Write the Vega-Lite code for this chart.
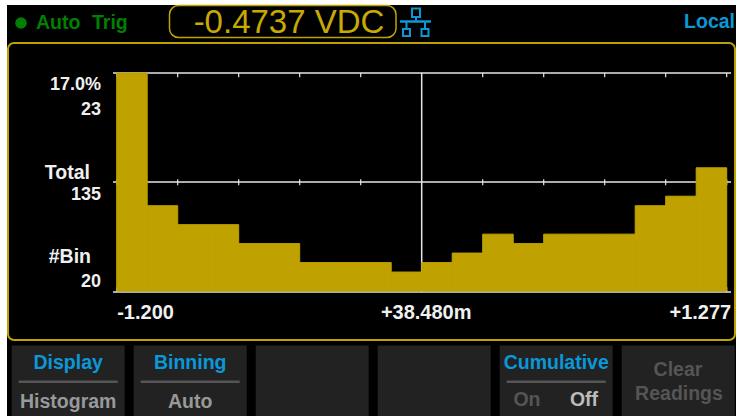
{
"$schema":"https://vega.github.io/schema/vega-lite/v6.json",
"width":618,"height":219,
"autosize":{"type":"none"},
"padding":{"left":113,"top":73,"right":5,"bottom":124},
"background":"#ffffff",
"view":{"stroke":null},
"config":{"text":{"font":"Liberation Sans","fontWeight":"bold","fontSize":19.5,"baseline":"middle"}},
"datasets":{
"bins":[
{"bin_start":-1.2,"bin_end":-1.07615,"count":23},
{"bin_start":-1.07615,"bin_end":-0.9523,"count":9},
{"bin_start":-0.9523,"bin_end":-0.82845,"count":7},
{"bin_start":-0.82845,"bin_end":-0.7046,"count":7},
{"bin_start":-0.7046,"bin_end":-0.58075,"count":5},
{"bin_start":-0.58075,"bin_end":-0.4569,"count":5},
{"bin_start":-0.4569,"bin_end":-0.33305,"count":3},
{"bin_start":-0.33305,"bin_end":-0.2092,"count":3},
{"bin_start":-0.2092,"bin_end":-0.08535,"count":3},
{"bin_start":-0.08535,"bin_end":0.0385,"count":2},
{"bin_start":0.0385,"bin_end":0.16235,"count":3},
{"bin_start":0.16235,"bin_end":0.2862,"count":4},
{"bin_start":0.2862,"bin_end":0.41005,"count":6},
{"bin_start":0.41005,"bin_end":0.5339,"count":5},
{"bin_start":0.5339,"bin_end":0.65775,"count":6},
{"bin_start":0.65775,"bin_end":0.7816,"count":6},
{"bin_start":0.7816,"bin_end":0.90545,"count":6},
{"bin_start":0.90545,"bin_end":1.0293,"count":9},
{"bin_start":1.0293,"bin_end":1.15315,"count":10},
{"bin_start":1.15315,"bin_end":1.277,"count":13}],
"ticks":[{"v":-1.2},{"v":-0.9523},{"v":-0.7046},{"v":-0.4569},{"v":-0.2092},{"v":0.2862},{"v":0.5339},{"v":0.7816},{"v":1.0293},{"v":1.277}],
"ends":[{"v":-1.2},{"v":1.277}],
"keys":[
{"slot":"1","title":"Display","value":"Histogram"},
{"slot":"2","title":"Binning","value":"Auto"},
{"slot":"3","title":"","value":""},
{"slot":"4","title":"","value":""},
{"slot":"5","title":"Cumulative","value":""},
{"slot":"6","title":"","value":""}]
},
"layer":[
{"data":{"values":[{"part":"screen"}]},"mark":{"type":"rect","color":"#000000"},"encoding":{"x":{"value":-106},"x2":{"value":623},"y":{"value":-68},"y2":{"value":343}}},
{"data":{"values":[{"part":"panel"}]},"mark":{"type":"rect","fillOpacity":0,"stroke":"#bfa200","strokeWidth":2,"cornerRadius":6},"encoding":{"x":{"value":-105},"x2":{"value":622},"y":{"value":-30},"y2":{"value":267}}},
{"data":{"values":[{"part":"readout"}]},"mark":{"type":"rect","fillOpacity":0,"stroke":"#bfa200","strokeWidth":1.5,"cornerRadius":9},"encoding":{"x":{"value":56.5},"x2":{"value":283},"y":{"value":-67.5},"y2":{"value":-35.5}}},
{"data":{"name":"keys"},"mark":{"type":"rect","color":"#222222"},"encoding":{"x":{"field":"slot","type":"nominal","axis":null,"scale":{"type":"band","domain":["1","2","3","4","5","6"],"range":[-101.3,621.7],"paddingInner":0.074,"paddingOuter":0}},"y":{"value":272.5},"y2":{"value":343}}},
{"data":{"name":"keys"},"transform":[{"filter":"datum.title!='' && datum.slot!='6'"}],"mark":{"type":"bar","width":99,"color":"#555555"},"encoding":{"x":{"field":"slot","type":"nominal","axis":null,"scale":{"type":"band","domain":["1","2","3","4","5","6"],"range":[-101.3,621.7],"paddingInner":0.074,"paddingOuter":0}},"y":{"value":307.5},"y2":{"value":310}}},
{"data":{"name":"ticks"},"mark":{"type":"rule","color":"#e6e6e6","strokeWidth":1.2},"encoding":{"x":{"field":"v","type":"quantitative","axis":null,"scale":{"domain":[-1.215,1.2945],"zero":false,"nice":false}},"y":{"datum":23,"scale":{"domain":[-0.105,23],"zero":false,"nice":false},"axis":null},"y2":{"datum":22.55}}},
{"data":{"name":"ticks"},"mark":{"type":"rule","color":"#e6e6e6","strokeWidth":1.2},"encoding":{"x":{"field":"v","type":"quantitative","axis":null,"scale":{"domain":[-1.215,1.2945],"zero":false,"nice":false}},"y":{"datum":11.8,"scale":{"domain":[-0.105,23],"zero":false,"nice":false},"axis":null},"y2":{"datum":11.15}}},
{"data":{"name":"ends"},"mark":{"type":"rule","color":"#e6e6e6","strokeWidth":1.2},"encoding":{"x":{"field":"v","type":"quantitative","axis":null,"scale":{"domain":[-1.215,1.2945],"zero":false,"nice":false}},"y":{"datum":-0.105,"scale":{"domain":[-0.105,23],"zero":false,"nice":false},"axis":null},"y2":{"datum":0.4}}},
{"data":{"values":[{"line":"top","y":23},{"line":"mid","y":11.5},{"line":"base","y":-0.105}]},"mark":{"type":"rule","color":"#e6e6e6","strokeWidth":1.5},"encoding":{"y":{"field":"y","type":"quantitative","axis":null,"scale":{"domain":[-0.105,23],"zero":false,"nice":false}}}},
{"data":{"values":[{"v":0.0385}]},"mark":{"type":"rule","color":"#e6e6e6","strokeWidth":1.5},"encoding":{"x":{"field":"v","type":"quantitative","axis":null,"scale":{"domain":[-1.215,1.2945],"zero":false,"nice":false}}}},
{"data":{"name":"bins"},"mark":{"type":"rect","color":"#bfa200","stroke":"#bfa200","strokeWidth":1},"encoding":{
"x":{"field":"bin_start","type":"quantitative","scale":{"domain":[-1.215,1.2945],"zero":false,"nice":false},
"axis":{"values":[-1.2,0.0385,1.277],"title":null,"grid":false,"ticks":false,"domain":false,"zindex":1,"labelColor":"#f0f0f0","labelFont":"Liberation Sans","labelFontWeight":"bold","labelFontSize":20,"labelPadding":10,"labelBaseline":"top","labelFlush":false,"labelOverlap":false,"labelExpr":"datum.value<0?'-1.200':datum.value>1?'+1.277':'+38.480m'",
"labelAlign":{"expr":"datum.value<0?'left':datum.value>1?'right':'center'"},
"labelOffset":{"expr":"datum.value<0?0:4"}}},
"x2":{"field":"bin_end"},
"y":{"field":"count","type":"quantitative","axis":null,"scale":{"domain":[-0.105,23],"zero":false,"nice":false}},
"y2":{"datum":0}}},
{"data":{"values":[{"label":"17.0%"}]},"mark":{"type":"text","align":"right","color":"#f0f0f0","fontSize":18},"encoding":{"text":{"field":"label"},"x":{"value":-12},"y":{"value":12}}},
{"data":{"values":[{"label":"23"}]},"mark":{"type":"text","align":"right","color":"#f0f0f0","fontSize":18},"encoding":{"text":{"field":"label"},"x":{"value":-12},"y":{"value":37}}},
{"data":{"values":[{"label":"Total"}]},"mark":{"type":"text","align":"right","color":"#f0f0f0"},"encoding":{"text":{"field":"label"},"x":{"value":-23},"y":{"value":100}}},
{"data":{"values":[{"label":"135"}]},"mark":{"type":"text","align":"right","color":"#f0f0f0","fontSize":18},"encoding":{"text":{"field":"label"},"x":{"value":-12},"y":{"value":122}}},
{"data":{"values":[{"label":"#Bin"}]},"mark":{"type":"text","align":"right","color":"#f0f0f0"},"encoding":{"text":{"field":"label"},"x":{"value":-22},"y":{"value":184}}},
{"data":{"values":[{"label":"20"}]},"mark":{"type":"text","align":"right","color":"#f0f0f0","fontSize":18},"encoding":{"text":{"field":"label"},"x":{"value":-12},"y":{"value":209}}},
{"data":{"values":[{"label":"●"}]},"mark":{"type":"circle","color":"#008000","size":135,"opacity":1},"encoding":{"x":{"value":-92},"y":{"value":-50}}},
{"data":{"values":[{"label":"Auto"}]},"mark":{"type":"text","align":"left","color":"#008000"},"encoding":{"text":{"field":"label"},"x":{"value":-77},"y":{"value":-50}}},
{"data":{"values":[{"label":"Trig"}]},"mark":{"type":"text","align":"left","color":"#008000"},"encoding":{"text":{"field":"label"},"x":{"value":-21},"y":{"value":-50}}},
{"data":{"values":[{"label":"-0.4737 VDC"}]},"mark":{"type":"text","align":"center","color":"#c8aa00","fontWeight":"normal","fontSize":33},"encoding":{"text":{"field":"label"},"x":{"value":176},"y":{"value":-50}}},
{"data":{"values":[{"label":"Local"}]},"mark":{"type":"text","align":"right","color":"#0a98d8"},"encoding":{"text":{"field":"label"},"x":{"value":622},"y":{"value":-51}}},
{"data":{"values":[{"part":"net-top"}]},"mark":{"type":"rect","fillOpacity":0,"stroke":"#0a98d8","strokeWidth":2},"encoding":{"x":{"value":299},"x2":{"value":307},"y":{"value":-64.5},"y2":{"value":-56}}},
{"data":{"values":[{"part":"net-left"}]},"mark":{"type":"rect","fillOpacity":0,"stroke":"#0a98d8","strokeWidth":2},"encoding":{"x":{"value":290},"x2":{"value":297},"y":{"value":-44},"y2":{"value":-37}}},
{"data":{"values":[{"part":"net-right"}]},"mark":{"type":"rect","fillOpacity":0,"stroke":"#0a98d8","strokeWidth":2},"encoding":{"x":{"value":308.5},"x2":{"value":315.5},"y":{"value":-44},"y2":{"value":-37}}},
{"data":{"values":[{"part":"net-bar"}]},"mark":{"type":"rule","color":"#0a98d8","strokeWidth":2.5},"encoding":{"x":{"value":287},"x2":{"value":318},"y":{"value":-51.5}}},
{"data":{"values":[{"part":"net-stem"}]},"mark":{"type":"rule","color":"#0a98d8","strokeWidth":2},"encoding":{"x":{"value":303},"y":{"value":-56},"y2":{"value":-51}}},
{"data":{"values":[{"part":"net-l"}]},"mark":{"type":"rule","color":"#0a98d8","strokeWidth":2},"encoding":{"x":{"value":293.5},"y":{"value":-51},"y2":{"value":-44}}},
{"data":{"values":[{"part":"net-r"}]},"mark":{"type":"rule","color":"#0a98d8","strokeWidth":2},"encoding":{"x":{"value":312},"y":{"value":-51},"y2":{"value":-44}}},
{"data":{"name":"keys"},"mark":{"type":"text","color":"#0a98d8"},"encoding":{"text":{"field":"title"},"x":{"field":"slot","type":"nominal","axis":null,"scale":{"type":"band","domain":["1","2","3","4","5","6"],"range":[-101.3,621.7],"paddingInner":0.074,"paddingOuter":0}},"y":{"value":290}}},
{"data":{"name":"keys"},"mark":{"type":"text","color":"#999999"},"encoding":{"text":{"field":"value"},"x":{"field":"slot","type":"nominal","axis":null,"scale":{"type":"band","domain":["1","2","3","4","5","6"],"range":[-101.3,621.7],"paddingInner":0.074,"paddingOuter":0}},"y":{"value":329}}},
{"data":{"values":[{"label":"On"}]},"mark":{"type":"text","color":"#555555"},"encoding":{"text":{"field":"label"},"x":{"value":414},"y":{"value":327}}},
{"data":{"values":[{"label":"Off"}]},"mark":{"type":"text","color":"#bbbbbb"},"encoding":{"text":{"field":"label"},"x":{"value":471},"y":{"value":327}}},
{"data":{"values":[{"label":"Clear"}]},"mark":{"type":"text","color":"#555555"},"encoding":{"text":{"field":"label"},"x":{"value":565},"y":{"value":297}}},
{"data":{"values":[{"label":"Readings"}]},"mark":{"type":"text","color":"#555555"},"encoding":{"text":{"field":"label"},"x":{"value":566},"y":{"value":321}}}
],
"resolve":{"scale":{"x":"independent"},"axis":{"x":"independent"}}
}
